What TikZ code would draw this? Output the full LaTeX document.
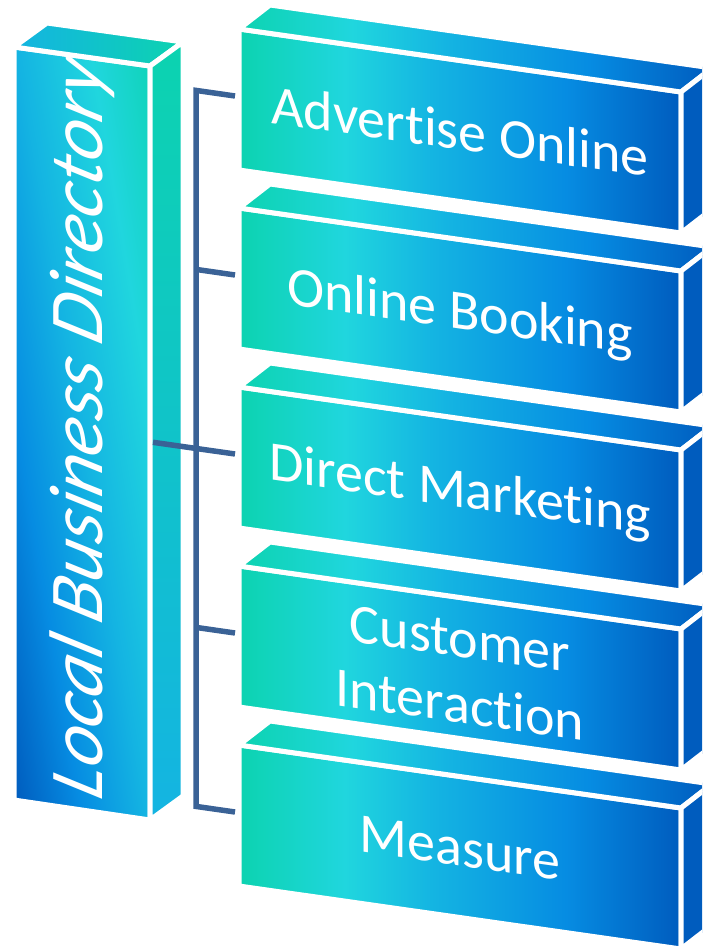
\documentclass[tikz,border=0pt]{standalone}
\usepackage{fontspec}
\setmainfont{Carlito}[Ligatures=NoCommon]
\definecolor{boxgreen}{RGB}{12,211,176}
\definecolor{boxcyan}{RGB}{32,214,222}
\definecolor{boxlight}{RGB}{20,180,226}
\definecolor{boxblue}{RGB}{6,140,226}
\definecolor{boxdark}{RGB}{0,92,190}
\definecolor{linkblue}{RGB}{58,98,150}
\pgfdeclarehorizontalshading{facegrad}{100bp}{color(0bp)=(boxgreen); color(25bp)=(boxgreen); color(37bp)=(boxcyan); color(47bp)=(boxlight); color(62bp)=(boxblue); color(75bp)=(boxdark); color(100bp)=(boxdark)}
\pgfdeclarehorizontalshading{dirgrad}{100bp}{color(0bp)=(boxgreen); color(41bp)=(boxgreen); color(45.5bp)=(boxcyan); color(50bp)=(boxlight); color(54bp)=(boxblue); color(58bp)=(boxdark); color(100bp)=(boxdark)}
\begin{document}
\begin{tikzpicture}[x=1pt, y=-1pt,
    boxface/.style={draw=white, line width=5pt, line join=round},
    linkline/.style={draw=linkblue, line width=5.5pt},
    boxtext/.style={text=white, font=\fontsize{56}{66}\selectfont, align=center, inner sep=0pt, yslant=-0.143}]
  \useasboundingbox (0,0) rectangle (702,947);
  \clip (0,0) rectangle (702,947);

  % Drawing box Local Business Directory
  \begin{scope}
    \clip (14,47) -- (150,66) -- (150,820) -- (14,800) -- cycle;
    \shade[shading=dirgrad, shading angle=189.6] (-318,33) rectangle (482,833);
  \end{scope}
  \draw[boxface] (14,47) -- (150,66) -- (150,820) -- (14,800) -- cycle;
  \shade[boxface, left color=boxlight, middle color=boxcyan, right color=boxgreen] (14,47) -- (47,23) -- (183,42) -- (150,66) -- cycle;
  \shade[boxface, top color=boxgreen, middle color=boxcyan, bottom color=boxlight] (150,66) -- (183,42) -- (183,796) -- (150,820) -- cycle;
  \node[boxtext, font=\fontsize{76}{84}\selectfont\itshape, yslant=-0.143, rotate=90] (lbd) at (82,428) {Local Business Directory};

  % Drawing box Advertise Online
  \shade[boxface, shading=facegrad] (239,29) -- (681,92) -- (681,233) -- (239,170) -- cycle;
  \shade[boxface, shading=facegrad] (239,29) -- (270,5) -- (712,68) -- (681,92) -- cycle;
  \filldraw[boxface, fill=boxdark] (681,92) -- (712,68) -- (712,209) -- (681,233) -- cycle;
  \node[boxtext, anchor=base] (adv) at (460,150) {Advertise Online};

  % Drawing box Online Booking
  \shade[boxface, shading=facegrad] (239,208) -- (681,271) -- (681,412) -- (239,349) -- cycle;
  \shade[boxface, shading=facegrad] (239,208) -- (270,184) -- (712,247) -- (681,271) -- cycle;
  \filldraw[boxface, fill=boxdark] (681,271) -- (712,247) -- (712,388) -- (681,412) -- cycle;
  \node[boxtext, anchor=base] (book) at (460,329) {Online Booking};

  % Drawing box Direct Marketing
  \shade[boxface, shading=facegrad] (239,387) -- (681,450) -- (681,591) -- (239,528) -- cycle;
  \shade[boxface, shading=facegrad] (239,387) -- (270,363) -- (712,426) -- (681,450) -- cycle;
  \filldraw[boxface, fill=boxdark] (681,450) -- (712,426) -- (712,567) -- (681,591) -- cycle;
  \node[boxtext, anchor=base] (mkt) at (460,507) {Direct Marketing};

  % Drawing box Customer Interaction
  \shade[boxface, shading=facegrad] (239,566) -- (681,629) -- (681,770) -- (239,707) -- cycle;
  \shade[boxface, shading=facegrad] (239,566) -- (270,542) -- (712,605) -- (681,629) -- cycle;
  \filldraw[boxface, fill=boxdark] (681,629) -- (712,605) -- (712,746) -- (681,770) -- cycle;
  \node[boxtext] (cust) at (460,672) {Customer\\Interaction};

  % Drawing box Measure
  \shade[boxface, shading=facegrad] (239,745) -- (681,808) -- (681,949) -- (239,886) -- cycle;
  \shade[boxface, shading=facegrad] (239,745) -- (270,721) -- (712,784) -- (681,808) -- cycle;
  \filldraw[boxface, fill=boxdark] (681,808) -- (712,784) -- (712,925) -- (681,949) -- cycle;
  \node[boxtext, anchor=base] (meas) at (460,866) {Measure};

  % Connector points
  \coordinate (lbd-out) at (153,442.3);
  \coordinate (j1) at (196,90.4);
  \coordinate (j2) at (196,269.4);
  \coordinate (j3) at (196,448.4);
  \coordinate (j4) at (196,627.4);
  \coordinate (j5) at (196,806.4);
  \coordinate (adv-in) at (235,96);
  \coordinate (book-in) at (235,275);
  \coordinate (mkt-in) at (235,454);
  \coordinate (cust-in) at (235,633);
  \coordinate (meas-in) at (235,812);

  % Drawing connectors
  \draw[linkline] (adv-in) -- (j1) -- (j5) -- (meas-in);
  \draw[linkline] (j2) -- (book-in);
  \draw[linkline] (lbd-out) -- (mkt-in);
  \draw[linkline] (j4) -- (cust-in);
\end{tikzpicture}
\end{document}
